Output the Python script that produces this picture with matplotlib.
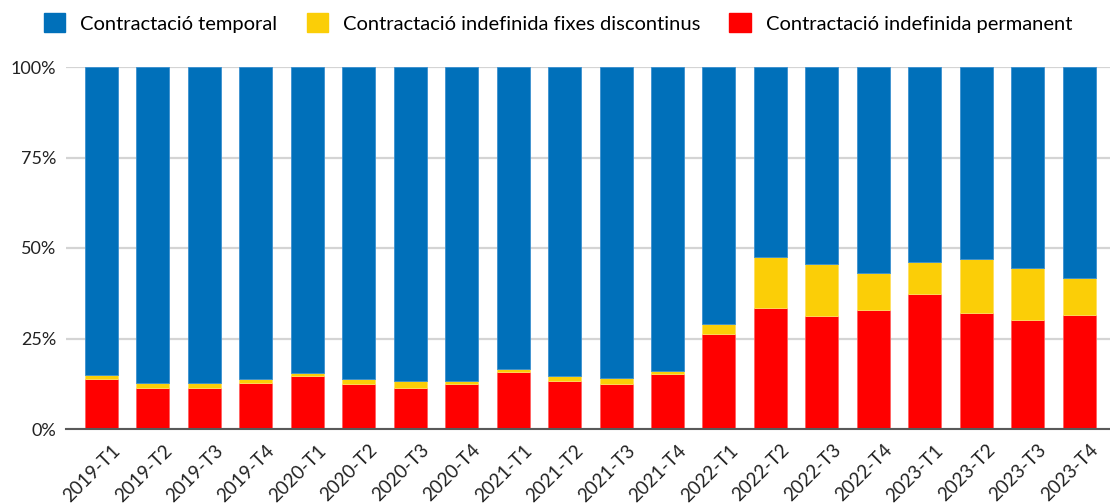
import matplotlib
matplotlib.use("Agg")
import matplotlib.pyplot as plt
from matplotlib.patches import Patch
import matplotlib.transforms as mtransforms
import numpy as np

plt.rcParams['font.family'] = ['Lato', 'DejaVu Sans']

categories = ["2019-T1", "2019-T2", "2019-T3", "2019-T4",
              "2020-T1", "2020-T2", "2020-T3", "2020-T4",
              "2021-T1", "2021-T2", "2021-T3", "2021-T4",
              "2022-T1", "2022-T2", "2022-T3", "2022-T4",
              "2023-T1", "2023-T2", "2023-T3", "2023-T4"]
permanent = [13.7, 11.2, 11.2, 12.7, 14.7, 12.3, 11.2, 12.3, 15.7, 13.2, 12.3, 15.1,
             26.2, 33.5, 31.1, 33.0, 37.3, 32.0, 30.1, 31.5]
fixes_disc = [1.1, 1.5, 1.5, 1.0, 0.9, 1.4, 2.0, 0.9, 0.9, 1.5, 1.8, 1.0,
              2.9, 14.0, 14.4, 10.1, 8.7, 14.9, 14.4, 10.1]
temporal = [100 - p - f for p, f in zip(permanent, fixes_disc)]

labels = ["Contractació temporal", "Contractació indefinida fixes discontinus",
          "Contractació indefinida permanent"]
c_blue, c_yellow, c_red = "#0070BA", "#FBCE07", "#FF0000"

fig = plt.figure(figsize=(11.1, 5.04), dpi=100)
ax = fig.add_axes([66/1110, 75/504, 1044/1110, 362/504])

x = np.arange(len(categories))
w = 0.64
ax.bar(x, permanent, w, color=c_red, edgecolor="#FF6060", linewidth=0.6, zorder=3)
ax.bar(x, fixes_disc, w, bottom=permanent, color=c_yellow, edgecolor="#FFE060", linewidth=0.6, zorder=3)
bottom2 = [p + f for p, f in zip(permanent, fixes_disc)]
ax.bar(x, temporal, w, bottom=bottom2, color=c_blue, edgecolor="#3A90D0", linewidth=0.6, zorder=3)

ax.set_xlim(-0.69, len(categories) - 1 + 0.6)
ax.set_ylim(0, 100)
ax.set_yticks([0, 25, 50, 75, 100])
ax.set_yticklabels(["0%", "25%", "50%", "75%", "100%"], fontsize=13, color="#222222")
ax.set_xticks(x)
ax.set_xticklabels(categories, rotation=45, ha="right", rotation_mode="anchor",
                   fontsize=13.5, color="#222222")
ax.tick_params(axis="both", length=0, pad=7)
ax.tick_params(axis="x", pad=9)
offset = mtransforms.ScaledTranslation(10/100, 0, fig.dpi_scale_trans)
for lab in ax.get_xticklabels():
    lab.set_transform(lab.get_transform() + offset)
ax.yaxis.grid(True, color="#D4D4D4", linewidth=1.6, zorder=0)
ax.set_axisbelow(True)
for s in ["top", "right", "left"]:
    ax.spines[s].set_visible(False)
ax.spines["bottom"].set_color("#595959")
ax.spines["bottom"].set_linewidth(1.5)
ax.spines["bottom"].set_zorder(4)

handles = [Patch(facecolor=c_blue, edgecolor=c_blue),
           Patch(facecolor=c_yellow, edgecolor=c_yellow),
           Patch(facecolor=c_red, edgecolor=c_red)]
fig.legend(handles, labels, loc="center", bbox_to_anchor=(558/1110, 1 - 23/504),
           ncol=3, frameon=False, fontsize=14.5, handlelength=1.05, handleheight=1.05,
           handletextpad=0.75, columnspacing=1.45)

fig.savefig("out.png", dpi=100)
